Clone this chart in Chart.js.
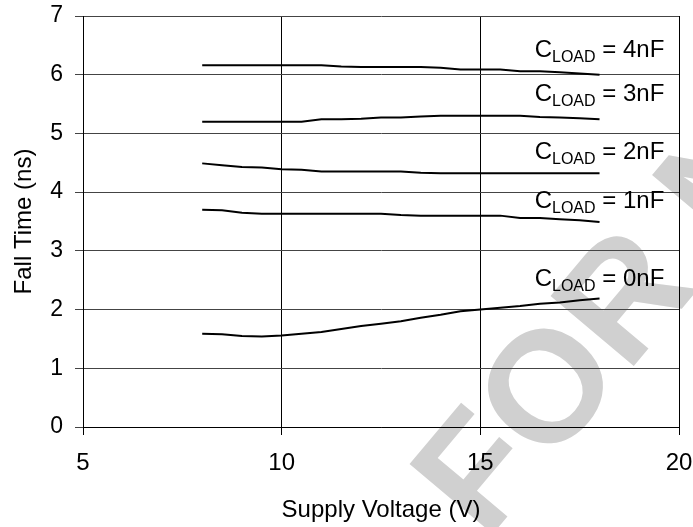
<!DOCTYPE html>
<html>
<head>
<meta charset="utf-8">
<script src="https://cdn.jsdelivr.net/npm/chart.js@4.4.1/dist/chart.umd.min.js"></script>
<style>
  html, body { margin: 0; padding: 0; background: #fff; }
  canvas { display: block; }
</style>
</head>
<body>
<canvas id="fall-chart" width="693" height="527"></canvas>
<script>
// supply voltage (V), shared by all curves
const voltage = [8, 8.5, 9, 9.5, 10, 10.5, 11, 11.5, 12, 12.5, 13, 13.5, 14, 14.5, 15, 15.5, 16, 16.5, 17, 17.5, 18];

// fall time (ns) per load capacitance
const fall0nF = [1.59, 1.58, 1.55, 1.54, 1.56, 1.59, 1.62, 1.67, 1.72, 1.76, 1.80, 1.86, 1.91, 1.97, 2.00, 2.03, 2.06, 2.10, 2.12, 2.16, 2.19];
const fall1nF = [3.70, 3.69, 3.65, 3.63, 3.63, 3.63, 3.63, 3.63, 3.63, 3.63, 3.61, 3.60, 3.60, 3.60, 3.60, 3.60, 3.56, 3.56, 3.54, 3.52, 3.49];
const fall2nF = [4.49, 4.46, 4.43, 4.42, 4.39, 4.38, 4.35, 4.35, 4.35, 4.35, 4.35, 4.33, 4.32, 4.32, 4.32, 4.32, 4.32, 4.32, 4.32, 4.32, 4.32];
const fall3nF = [5.20, 5.20, 5.20, 5.20, 5.20, 5.20, 5.24, 5.24, 5.25, 5.27, 5.27, 5.29, 5.30, 5.30, 5.30, 5.30, 5.30, 5.28, 5.27, 5.26, 5.24];
const fall4nF = [6.16, 6.16, 6.16, 6.16, 6.16, 6.16, 6.16, 6.14, 6.13, 6.13, 6.13, 6.13, 6.12, 6.09, 6.09, 6.09, 6.06, 6.06, 6.04, 6.02, 6.00];

const loadNames = ['0nF', '1nF', '2nF', '3nF', '4nF'];
const xTicks = [5, 10, 15, 20];
const yTicks = [0, 1, 2, 3, 4, 5, 6, 7];

// where the curve labels sit (right edge x, baseline y, in data units)
const labelRightX = 19.63;
const labelBaseY = [2.40, 3.73, 4.57, 5.55, 6.31];

const FONT = "'Liberation Sans', Arial, sans-serif";


function toPoints(values) {
    return values.map((v, i) => ({ x: voltage[i], y: v }));
}


const watermark = {
    id: 'watermark',
    beforeDraw(chart) {
        const ctx = chart.ctx;
        ctx.save();
        ctx.fillStyle = '#fff';
        ctx.fillRect(0, 0, chart.width, chart.height);
        ctx.translate(486, 542);
        ctx.rotate(-50 * Math.PI / 180);
        ctx.font = "bold 158px " + FONT;
        ctx.fillStyle = '#d0d0d0';
        ctx.textBaseline = 'alphabetic';
        ctx.textAlign = 'right';
        ctx.fillText('NOT RECOMMENDED ', 0, 0);
        ctx.textAlign = 'left';
        ctx.fillText('FOR NEW DESIGNS', 0, 0);
        ctx.restore();
    }
};


const curveLabels = {
    id: 'curveLabels',
    afterDatasetsDraw(chart) {
        const ctx = chart.ctx;
        const xs = chart.scales.x;
        const ys = chart.scales.y;
        const main = "24px " + FONT;
        const sub = "16px " + FONT;
        ctx.save();
        ctx.fillStyle = '#000';
        ctx.textBaseline = 'alphabetic';
        ctx.textAlign = 'left';
        loadNames.forEach((name, i) => {
            ctx.font = main;
            const wC = ctx.measureText('C').width;
            const rest = ' = ' + name;
            const wRest = ctx.measureText(rest).width;
            ctx.font = sub;
            const wSub = ctx.measureText('LOAD').width;
            const right = xs.getPixelForValue(labelRightX);
            const base = ys.getPixelForValue(labelBaseY[i]);
            let x = right - (wC + wSub + wRest);
            ctx.font = main;
            ctx.fillText('C', x, base);
            x += wC;
            ctx.font = sub;
            ctx.fillText('LOAD', x, base + 5);
            x += wSub;
            ctx.font = main;
            ctx.fillText(rest, x, base);
        });
        ctx.restore();
    }
};


function initChart() {
    const ctx = document.getElementById('fall-chart').getContext('2d');
    const series = [fall0nF, fall1nF, fall2nF, fall3nF, fall4nF];
    return new Chart(ctx, {
        type: 'line',
        data: {
            datasets: series.map((values, i) => ({
                label: 'CLOAD = ' + loadNames[i],
                data: toPoints(values),
                borderColor: '#000',
                borderWidth: 2,
                pointRadius: 0,
                tension: 0,
                fill: false
            }))
        },
        options: {
            responsive: false,
            animation: false,
            devicePixelRatio: 1,
            layout: { padding: { top: 16, right: 14, left: 0, bottom: 0 } },
            scales: {
                x: {
                    type: 'linear',
                    min: 5,
                    max: 20,
                    afterBuildTicks: (axis) => { axis.ticks = xTicks.map(v => ({ value: v })); },
                    afterFit: (axis) => {
                        axis.height = 100;
                        axis.paddingLeft = 0;
                        axis.paddingRight = 0;
                    },
                    ticks: { color: '#000', font: { family: FONT, size: 24 }, padding: 14 },
                    grid: { color: '#000', lineWidth: 1, tickLength: 8 },
                    border: { color: '#000', width: 1 },
                    title: {
                        display: true,
                        text: 'Supply Voltage (V)',
                        color: '#000',
                        font: { family: FONT, size: 24 },
                        padding: { top: 0, bottom: 2 }
                    }
                },
                y: {
                    min: 0,
                    max: 7,
                    afterBuildTicks: (axis) => { axis.ticks = yTicks.map(v => ({ value: v })); },
                    afterFit: (axis) => {
                        axis.width = 83;
                        axis.paddingTop = 0;
                        axis.paddingBottom = 0;
                    },
                    ticks: { color: '#000', font: { family: FONT, size: 23 }, padding: 12 },
                    grid: { color: '#444', lineWidth: 1, tickLength: 8 },
                    border: { color: '#000', width: 1 },
                    title: {
                        display: true,
                        text: 'Fall Time (ns)',
                        color: '#000',
                        font: { family: FONT, size: 24 },
                        padding: { top: 10, bottom: 0 }
                    }
                }
            },
            plugins: {
                legend: { display: false },
                tooltip: { enabled: false }
            }
        },
        plugins: [watermark, curveLabels]
    });
}


document.addEventListener('DOMContentLoaded', function() {
    initChart();
});
</script>
</body>
</html>
